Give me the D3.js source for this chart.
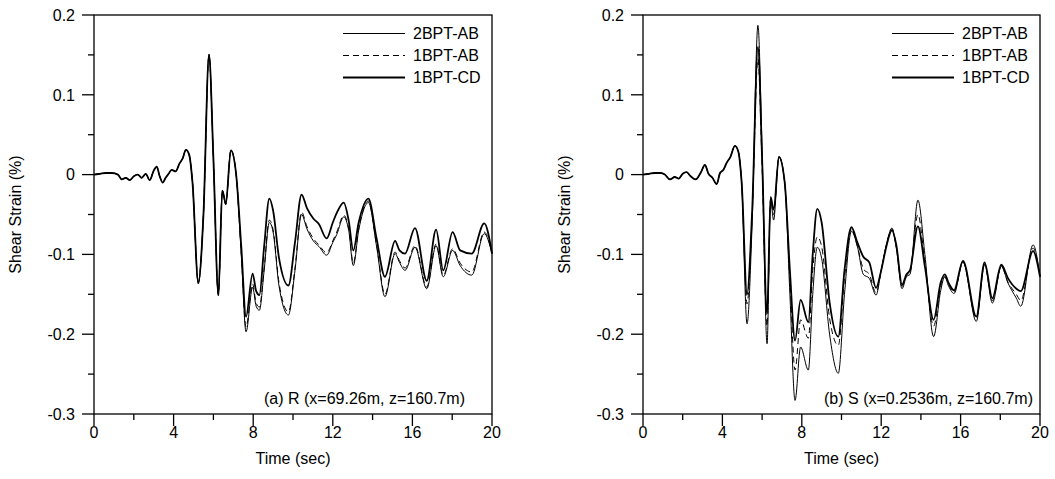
<!DOCTYPE html>
<html>
<head>
<meta charset="utf-8">
<script src="https://cdn.jsdelivr.net/npm/d3@7"></script>
<style>
  body { margin: 0; background: #fff; }
  svg { display: block; font-family: "Liberation Sans", Arial, sans-serif; }
</style>
</head>
<body>
<svg id="chart" width="1055" height="479"></svg>
<script>
// ---- data ----
const seriesNames = ['2BPT-AB', '1BPT-AB', '1BPT-CD'];
const xTicks = [0, 4, 8, 12, 16, 20];
const yTicks = [-0.3, -0.2, -0.1, 0, 0.1, 0.2];
const yTickLabels = ['-0.3', '-0.2', '-0.1', '0', '0.1', '0.2'];

// (a) point R
const timeR = [0, 0.3, 0.6, 0.9, 1.2, 1.4, 1.6, 1.8, 2.0, 2.2, 2.4, 2.6, 2.8, 3.0, 3.15, 3.3, 3.45, 3.6, 3.75, 3.9, 4.1, 4.3, 4.45, 4.62, 4.78,
  4.95, 5.24, 5.5, 5.78, 6.0, 6.25, 6.45, 6.62, 6.88, 7.14, 7.4, 7.64, 7.97, 8.15, 8.31, 8.55, 8.81, 9.0, 9.3, 9.77, 10.1, 10.43, 10.7,
  11.02, 11.3, 11.69, 12.0, 12.2, 12.55, 12.8, 13.03, 13.3, 13.79, 14.2, 14.62, 15.13, 15.35, 15.63, 16.13, 16.72, 17.19, 17.55, 18.02,
  18.4, 18.98, 19.61, 20];
const r2BPT_AB = [0, 0.001, 0.002, 0.002, 0.000, -0.006, -0.004, -0.007, -0.002, 0.000, -0.004, 0.001, -0.007, 0.005, 0.010, -0.002, -0.010, -0.004, 0.001, 0.006, 0.004, 0.014, 0.020, 0.031, 0.025,
  -0.010, -0.137, -0.050, 0.151, 0.020, -0.152, -0.020, -0.038, 0.031, 0.001, -0.100, -0.197, -0.141, -0.165, -0.170, -0.120, -0.060, -0.072, -0.140, -0.176, -0.120, -0.050, -0.068,
  -0.083, -0.090, -0.101, -0.085, -0.075, -0.053, -0.070, -0.114, -0.070, -0.035, -0.090, -0.153, -0.099, -0.110, -0.120, -0.091, -0.143, -0.089, -0.128, -0.095,
  -0.114, -0.126, -0.074, -0.099];
const r1BPT_AB = [0, 0.001, 0.002, 0.002, 0.000, -0.006, -0.004, -0.007, -0.002, 0.000, -0.004, 0.001, -0.007, 0.005, 0.010, -0.002, -0.010, -0.004, 0.001, 0.006, 0.004, 0.014, 0.020, 0.031, 0.025,
  -0.010, -0.135, -0.050, 0.149, 0.020, -0.150, -0.020, -0.037, 0.031, 0.001, -0.098, -0.191, -0.137, -0.161, -0.166, -0.117, -0.057, -0.069, -0.136, -0.172, -0.117, -0.047, -0.065,
  -0.080, -0.088, -0.098, -0.083, -0.072, -0.051, -0.068, -0.111, -0.068, -0.033, -0.088, -0.150, -0.097, -0.108, -0.117, -0.089, -0.141, -0.087, -0.126, -0.093,
  -0.111, -0.122, -0.072, -0.098];
const r1BPT_CD = [0, 0.001, 0.002, 0.002, 0.000, -0.006, -0.004, -0.007, -0.002, 0.000, -0.004, 0.001, -0.007, 0.005, 0.010, -0.002, -0.010, -0.004, 0.001, 0.006, 0.004, 0.014, 0.020, 0.031, 0.025,
  -0.010, -0.135, -0.050, 0.150, 0.020, -0.150, -0.020, -0.036, 0.030, 0.001, -0.090, -0.178, -0.124, -0.146, -0.151, -0.090, -0.030, -0.045, -0.105, -0.139, -0.085, -0.025, -0.042,
  -0.055, -0.062, -0.080, -0.060, -0.048, -0.035, -0.058, -0.095, -0.060, -0.030, -0.080, -0.128, -0.083, -0.095, -0.099, -0.067, -0.133, -0.069, -0.120, -0.072,
  -0.095, -0.099, -0.061, -0.099];

// (b) point S
const timeS = [0, 0.3, 0.6, 0.9, 1.1, 1.36, 1.6, 1.8, 2.0, 2.2, 2.4, 2.65, 2.9, 3.12, 3.3, 3.5, 3.71, 3.88, 4.05, 4.22, 4.4, 4.63, 4.8,
  4.97, 5.24, 5.5, 5.79, 6.0, 6.25, 6.43, 6.58, 6.85, 7.14, 7.4, 7.66, 7.94, 8.33, 8.55, 8.78, 9.0, 9.4, 9.84, 10.15, 10.5, 10.8,
  11.1, 11.4, 11.74, 12.0, 12.26, 12.54, 12.76, 13.05, 13.27, 13.45, 13.85, 14.2, 14.64, 15.0, 15.2, 15.4, 15.67, 16.12, 16.79, 17.21,
  17.6, 18.05, 18.39, 18.81, 19.03, 19.65, 20];
const s2BPT_AB = [0, 0.001, 0.002, 0.002, 0.000, -0.006, -0.003, -0.005, 0.001, 0.003, -0.002, -0.006, 0.002, 0.012, 0.001, -0.004, -0.012, 0.002, 0.006, 0.015, 0.022, 0.036, 0.029,
  -0.010, -0.187, -0.060, 0.187, 0.030, -0.212, -0.031, -0.057, 0.023, -0.010, -0.150, -0.283, -0.216, -0.245, -0.150, -0.091, -0.105, -0.200, -0.249, -0.150, -0.071, -0.090,
  -0.125, -0.130, -0.151, -0.120, -0.088, -0.067, -0.092, -0.143, -0.128, -0.125, -0.032, -0.100, -0.203, -0.145, -0.128, -0.140, -0.149, -0.109, -0.184, -0.113,
  -0.161, -0.115, -0.136, -0.155, -0.165, -0.088, -0.128];
const s1BPT_AB = [0, 0.001, 0.002, 0.002, 0.000, -0.006, -0.003, -0.005, 0.001, 0.003, -0.002, -0.006, 0.002, 0.012, 0.001, -0.004, -0.012, 0.002, 0.006, 0.015, 0.022, 0.036, 0.029,
  -0.010, -0.162, -0.050, 0.145, 0.010, -0.190, -0.030, -0.050, 0.022, -0.010, -0.130, -0.245, -0.182, -0.205, -0.120, -0.078, -0.090, -0.180, -0.214, -0.130, -0.068, -0.090,
  -0.118, -0.125, -0.148, -0.120, -0.088, -0.068, -0.090, -0.140, -0.127, -0.122, -0.050, -0.110, -0.190, -0.140, -0.128, -0.138, -0.147, -0.110, -0.180, -0.112,
  -0.158, -0.115, -0.135, -0.150, -0.158, -0.092, -0.128];
const s1BPT_CD = [0, 0.001, 0.002, 0.002, 0.000, -0.006, -0.003, -0.005, 0.001, 0.003, -0.002, -0.006, 0.002, 0.012, 0.001, -0.004, -0.012, 0.002, 0.006, 0.015, 0.022, 0.036, 0.029,
  -0.010, -0.150, -0.045, 0.160, 0.020, -0.174, -0.028, -0.044, 0.022, -0.010, -0.120, -0.208, -0.157, -0.185, -0.100, -0.043, -0.060, -0.160, -0.203, -0.120, -0.066, -0.085,
  -0.103, -0.110, -0.142, -0.120, -0.090, -0.070, -0.088, -0.138, -0.125, -0.120, -0.065, -0.115, -0.182, -0.135, -0.125, -0.136, -0.145, -0.108, -0.178, -0.110,
  -0.155, -0.113, -0.130, -0.143, -0.146, -0.096, -0.128];

const seriesStyle = [
    { width: 1.0, dash: null },
    { width: 1.0, dash: '6,4' },
    { width: 1.8, dash: null }
];

const panels = [
    { left: 94, right: 492, label: '(a) R (x=69.26m, z=160.7m)', noteX: 465, legX: 343,
      time: timeR, values: [r2BPT_AB, r1BPT_AB, r1BPT_CD] },
    { left: 643, right: 1040, label: '(b) S (x=0.2536m, z=160.7m)', noteX: 1033, legX: 892,
      time: timeS, values: [s2BPT_AB, s1BPT_AB, s1BPT_CD] }
];

const svg = d3.select('#chart');
const plotTop = 15, plotBottom = 414;
const fs = 16;

panels.forEach(function (p) {
    const x = d3.scaleLinear().domain([0, 20]).range([p.left, p.right]);
    const y = d3.scaleLinear().domain([-0.3, 0.2]).range([plotBottom, plotTop]);
    const g = svg.append('g');

    // frame
    g.append('rect')
        .attr('x', p.left).attr('y', plotTop)
        .attr('width', p.right - p.left).attr('height', plotBottom - plotTop)
        .attr('fill', 'none').attr('stroke', '#000').attr('stroke-width', 1.3);

    // y ticks (major + minor), outward
    const yMinor = [-0.25, -0.15, -0.05, 0.05, 0.15];
    g.selectAll('.ymaj').data(yTicks).join('line')
        .attr('x1', p.left - 12).attr('x2', p.left)
        .attr('y1', d => y(d)).attr('y2', d => y(d))
        .attr('stroke', '#000').attr('stroke-width', 1.3);
    g.selectAll('.ymin').data(yMinor).join('line')
        .attr('x1', p.left - 6).attr('x2', p.left)
        .attr('y1', d => y(d)).attr('y2', d => y(d))
        .attr('stroke', '#000').attr('stroke-width', 1.3);
    g.selectAll('.ylab').data(yTicks).join('text')
        .attr('x', p.left - 19).attr('y', d => y(d) + 5.7)
        .attr('text-anchor', 'end').attr('font-size', fs)
        .text((d, i) => yTickLabels[i]);

    // x ticks
    const xMinor = [2, 6, 10, 14, 18];
    g.selectAll('.xmaj').data(xTicks).join('line')
        .attr('x1', d => x(d)).attr('x2', d => x(d))
        .attr('y1', plotBottom).attr('y2', plotBottom + 12)
        .attr('stroke', '#000').attr('stroke-width', 1.3);
    g.selectAll('.xmin').data(xMinor).join('line')
        .attr('x1', d => x(d)).attr('x2', d => x(d))
        .attr('y1', plotBottom).attr('y2', plotBottom + 6)
        .attr('stroke', '#000').attr('stroke-width', 1.3);
    g.selectAll('.xlab').data(xTicks).join('text')
        .attr('x', d => x(d)).attr('y', plotBottom + 24)
        .attr('text-anchor', 'middle').attr('font-size', fs)
        .text(d => d);

    // axis titles
    g.append('text')
        .attr('x', (p.left + p.right) / 2).attr('y', plotBottom + 50)
        .attr('text-anchor', 'middle').attr('font-size', fs)
        .text('Time (sec)');
    g.append('text')
        .attr('transform', `translate(${p.left - 73},${(plotTop + plotBottom) / 2}) rotate(-90)`)
        .attr('text-anchor', 'middle').attr('font-size', fs)
        .text('Shear Strain (%)');

    // curves
    const line = d3.line()
        .x((d, i) => x(p.time[i]))
        .y(d => y(d))
        .curve(d3.curveMonotoneX);
    p.values.forEach(function (vals, k) {
        g.append('path')
            .attr('d', line(vals))
            .attr('fill', 'none').attr('stroke', '#000')
            .attr('stroke-width', seriesStyle[k].width)
            .attr('stroke-dasharray', seriesStyle[k].dash)
            .attr('stroke-linejoin', 'round');
    });

    // legend
    seriesNames.forEach(function (name, k) {
        const ly = plotTop + 18.5 + k * 22;
        g.append('line')
            .attr('x1', p.legX).attr('x2', p.legX + 62)
            .attr('y1', ly).attr('y2', ly)
            .attr('stroke', '#000')
            .attr('stroke-width', seriesStyle[k].width)
            .attr('stroke-dasharray', seriesStyle[k].dash);
        g.append('text')
            .attr('x', p.legX + 70).attr('y', ly + 5.7)
            .attr('font-size', fs)
            .text(name);
    });

    // annotation
    g.append('text')
        .attr('x', p.noteX).attr('y', plotBottom - 10)
        .attr('text-anchor', 'end').attr('font-size', fs)
        .text(p.label);
});
</script>
</body>
</html>
